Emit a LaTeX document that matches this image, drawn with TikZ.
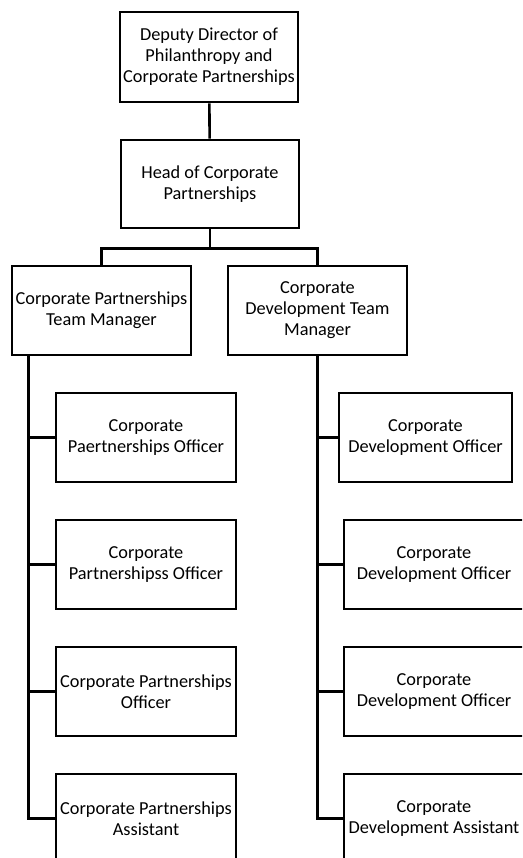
\documentclass[tikz,border=0pt]{standalone}
\usepackage{fontspec}
\setmainfont{Carlito}
\begin{document}
\begin{tikzpicture}[x=1pt,y=-1pt,
  box/.style={draw=black,line width=2.6pt,rectangle,inner sep=0pt,align=center,
    font=\fontsize{18.3}{21}\selectfont,text=black},
  conn/.style={line width=2.6pt,draw=black}]
\useasboundingbox (0,0) rectangle (522,858);
\clip (0,0) rectangle (522,858);
% top levels
\node[box,minimum width=178pt,minimum height=90pt] (top) at (209,57) {Deputy Director of\\Philanthropy and\\Corporate Partnerships};
\node[box,minimum width=178pt,minimum height=88pt] (head) at (210,184) {Head of Corporate\\Partnerships};
\node[box,minimum width=179pt,minimum height=89pt] (lm) at (101.5,310.5) {Corporate Partnerships\\Team Manager};
\node[box,minimum width=179pt,minimum height=89pt] (rm) at (317.5,310.5) {Corporate\\Development Team\\Manager};
% left column
\node[box,minimum width=180pt,minimum height=89pt] (l1) at (146,437.5) {Corporate\\Paertnerships Officer};
\node[box,minimum width=180pt,minimum height=89pt] (l2) at (146,564.5) {Corporate\\Partnershipss Officer};
\node[box,minimum width=180pt,minimum height=89pt] (l3) at (146,691.5) {Corporate Partnerships\\Officer};
\node[box,minimum width=180pt,minimum height=89pt] (l4) at (146,818.5) {Corporate Partnerships\\Assistant};
% right column
\node[box,minimum width=173pt,minimum height=89pt] (r1) at (425.5,437.5) {Corporate\\Development Officer};
\node[box,minimum width=180pt,minimum height=89pt] (r2) at (434,564.5) {Corporate\\Development Officer};
\node[box,minimum width=180pt,minimum height=89pt] (r3) at (434,691.5) {Corporate\\Development Officer};
\node[box,minimum width=180pt,minimum height=89pt] (r4) at (434,818.5) {Corporate\\Development Assistant};
% connectors
\draw[conn] (top) -- (head);
\draw[conn] (head.south) -- ++(0,19) coordinate (j);
\draw[conn] (j) -| (lm.north);
\draw[conn] (j) -| (rm.north);
\path (lm.south west) ++(18,0) coordinate (ls);
\foreach \n in {l1,l2,l3,l4} \draw[conn] (ls) |- (\n.west);
\foreach \n in {r1,r2,r3,r4} \draw[conn] (rm.south) |- (\n.west);
\end{tikzpicture}
\end{document}
